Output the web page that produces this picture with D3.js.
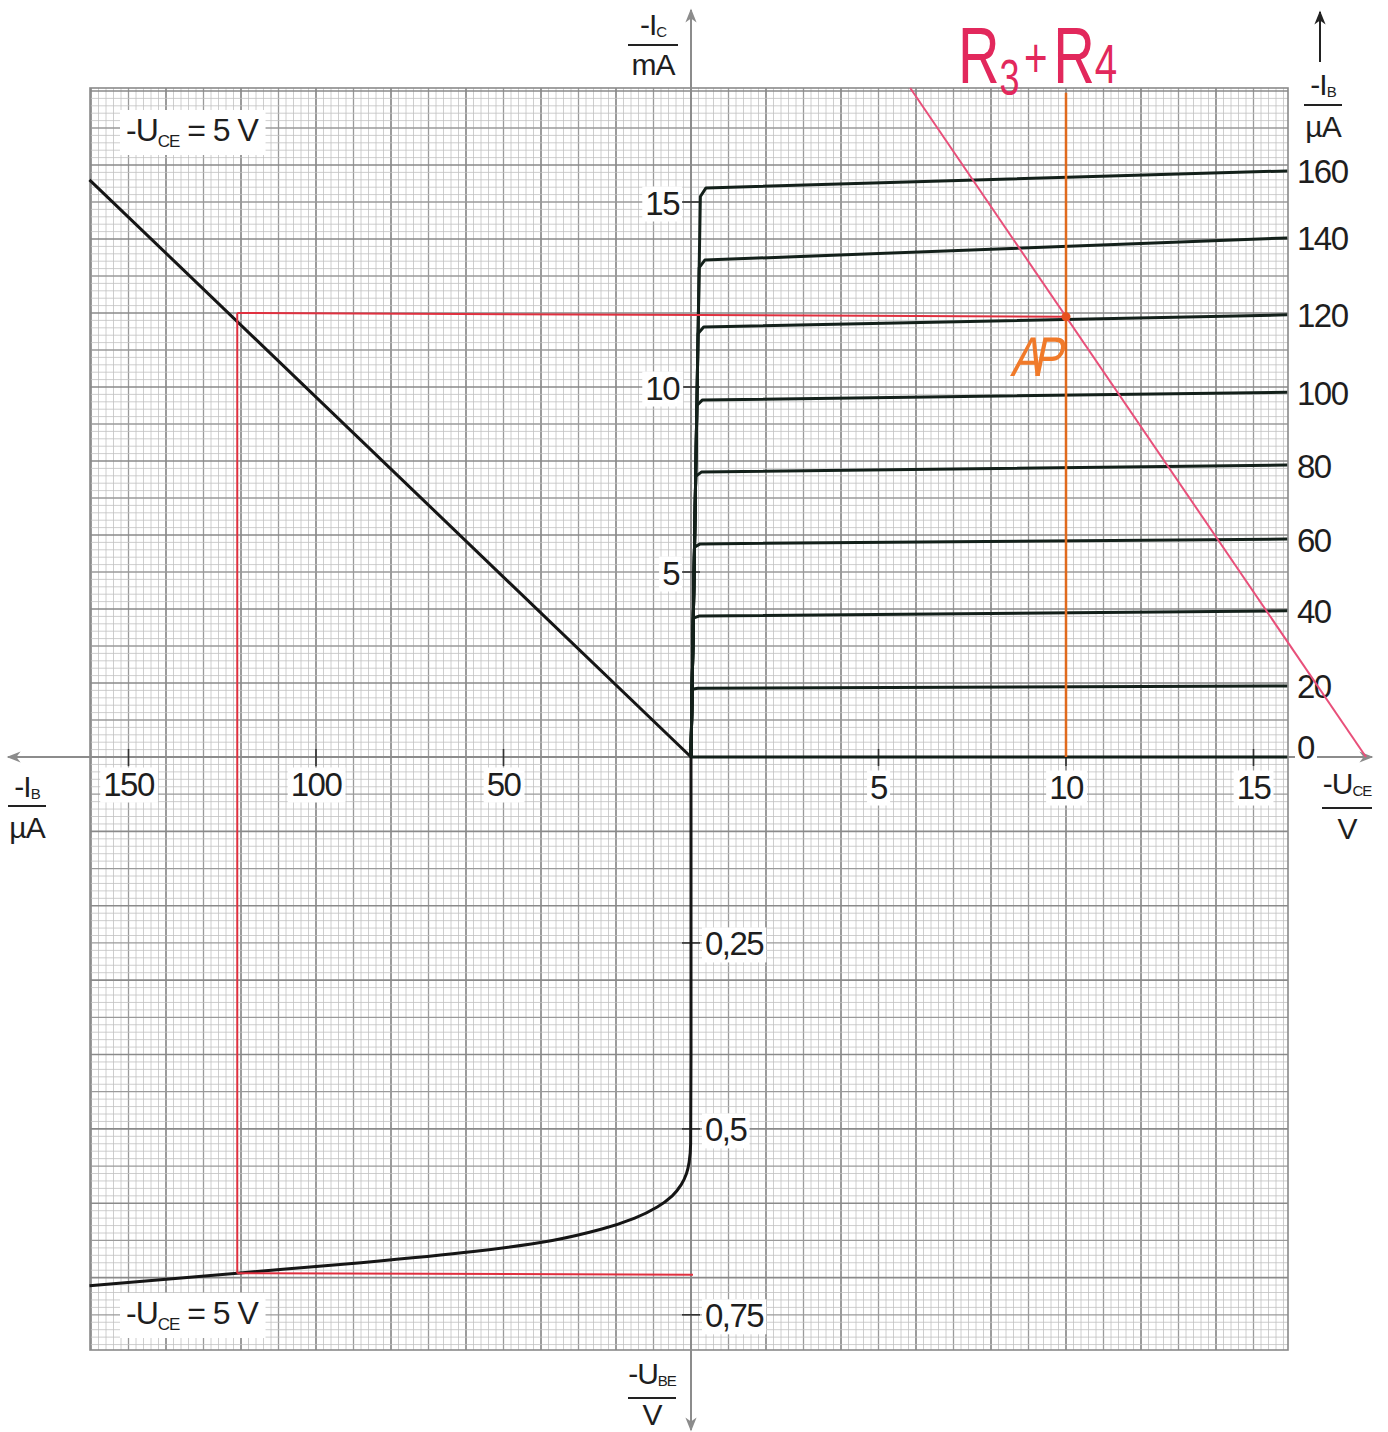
<!DOCTYPE html>
<html>
<head>
<meta charset="utf-8">
<script src="https://cdn.jsdelivr.net/npm/d3@7"></script>
<style>
  html, body { margin: 0; padding: 0; background: #fff; }
  svg text { font-family: "Liberation Sans", Arial, sans-serif; fill: #1e1e1e; }
</style>
</head>
<body>
<svg id="chart" width="1388" height="1432"></svg>
<script>
// ---- Data -------------------------------------------------------------
// Output characteristics: -IC (mA) vs -UCE (V), one curve per base current
const baseCurrents = [0, 20, 40, 60, 80, 100, 120, 140, 160];       // µA
const icAtKnee     = [0, 1.86, 3.81, 5.76, 7.70, 9.65, 11.62, 13.43, 15.38]; // mA just past the knee
const icAtEnd      = [0, 1.92, 3.95, 5.89, 7.89, 9.86, 11.95, 14.03, 15.84]; // mA at UCE = 15.9 V
const uceKnee = 0.25;
const uceEnd  = 15.9;

// Current transfer characteristic (-UCE = 5 V): -IC vs -IB
const transferIB = [0, 160.4];
const transferIC = [0, 15.6];

// Input characteristic (-UCE = 5 V): -IB vs -UBE
const inputUBE = [0, 0.40, 0.520, 0.545, 0.560, 0.575, 0.590, 0.605, 0.620, 0.635, 0.650, 0.665, 0.680, 0.694, 0.711];
const inputIB  = [0, 0,    0.1,   0.5,   1.2,   2.6,   5.0,   9.0,   15.0,  24.0,  37.0,  58.0,  88.0,  121,   160.4];

// Operating point and load line
const apUCE = 10, apIC = 11.9, apIB = 121, apUBE = 0.694;
const supplyU = 18;                      // load line meets the UCE axis here
const loadTopIC = 18.08;

// Axis tick labels
const uceTicks = [5, 10, 15];
const ibTicks  = [50, 100, 150];
const icTicks  = [5, 10, 15];
const ubeTicks = [0.25, 0.5, 0.75];
const ubeTickText = ["0,25", "0,5", "0,75"];

// ---- Scales -------------------------------------------------------------
const ox = 691, oy = 757;
const gLeft = 90, gRight = 1288, gTop = 88, gBottom = 1350;

const xU = d3.scaleLinear().domain([0, 16]).range([ox, ox + 600]);      // -UCE right
const xB = d3.scaleLinear().domain([0, 160]).range([ox, ox - 600]);     // -IB left
const yI = d3.scaleLinear().domain([0, 18]).range([oy, oy - 666]);      // -IC up
const yU = d3.scaleLinear().domain([0, 0.8]).range([oy, oy + 595]);     // -UBE down

const svg = d3.select("#chart");

// ---- Graph paper ------------------------------------------------------
const paper = svg.append("g");
paper.append("rect").attr("x", gLeft).attr("y", gTop)
  .attr("width", gRight - gLeft).attr("height", gBottom - gTop).attr("fill", "#fff");

const lineStyle = i => (i % 10 === 0) ? ["#8a8a8a", 1.7] : (i % 5 === 0) ? ["#9a9a9a", 1.3] : ["#c2c2c2", 0.8];
const vLines = [], hLines = [];
for (let i = 0; ; i++) { const x = xU(i * 0.2); if (x > gRight - 1) break; vLines.push([x, i]); }
for (let i = 1; ; i++) { const x = xB(i * 2); if (x < gLeft - 0.5) break; vLines.push([x, i]); }
for (let i = 0; ; i++) { const y = yI(i * 0.2); if (y < gTop - 0.5) break; hLines.push([y, i]); }
for (let i = 1; ; i++) { const y = yU(i * 0.01); if (y > gBottom - 1) break; hLines.push([y, i]); }
const sortW = (a, b) => lineStyle(a[1])[1] - lineStyle(b[1])[1];
vLines.sort(sortW); hLines.sort(sortW);
paper.selectAll("line.v").data(vLines).join("line")
  .attr("x1", d => d[0]).attr("x2", d => d[0]).attr("y1", gTop).attr("y2", gBottom)
  .attr("stroke", d => lineStyle(d[1])[0]).attr("stroke-width", d => lineStyle(d[1])[1]);
paper.selectAll("line.h").data(hLines).join("line")
  .attr("y1", d => d[0]).attr("y2", d => d[0]).attr("x1", gLeft).attr("x2", gRight)
  .attr("stroke", d => lineStyle(d[1])[0]).attr("stroke-width", d => lineStyle(d[1])[1]);
paper.append("rect").attr("x", gLeft).attr("y", gTop)
  .attr("width", gRight - gLeft).attr("height", gBottom - gTop)
  .attr("fill", "none").attr("stroke", "#8a8a8a").attr("stroke-width", 1.6);

// ---- Axes ---------------------------------------------------------------
const axisColor = "#8c8c8c";
const defs = svg.append("defs");
defs.append("marker").attr("id", "arrGray").attr("viewBox", "0 0 10 10")
  .attr("refX", 9).attr("refY", 5).attr("markerWidth", 20).attr("markerHeight", 14)
  .attr("markerUnits", "userSpaceOnUse").attr("orient", "auto")
  .append("path").attr("d", "M0,1 L10,5 L0,9 L3,5 Z").attr("fill", axisColor);
defs.append("marker").attr("id", "arrBlack").attr("viewBox", "0 0 10 10")
  .attr("refX", 9).attr("refY", 5).attr("markerWidth", 20).attr("markerHeight", 14)
  .attr("markerUnits", "userSpaceOnUse").attr("orient", "auto")
  .append("path").attr("d", "M0,1 L10,5 L0,9 L3,5 Z").attr("fill", "#222");

const axes = svg.append("g");
axes.append("line").attr("x1", ox).attr("x2", ox).attr("y1", 1430).attr("y2", 10)
  .attr("stroke", axisColor).attr("stroke-width", 2).attr("marker-end", "url(#arrGray)");
axes.append("line").attr("x1", ox).attr("x2", ox).attr("y1", 10).attr("y2", 1430)
  .attr("stroke", axisColor).attr("stroke-width", 2).attr("marker-end", "url(#arrGray)");
axes.append("line").attr("x1", ox).attr("x2", 1372).attr("y1", oy).attr("y2", oy)
  .attr("stroke", axisColor).attr("stroke-width", 2).attr("marker-end", "url(#arrGray)");
axes.append("line").attr("x1", ox).attr("x2", 8).attr("y1", oy).attr("y2", oy)
  .attr("stroke", axisColor).attr("stroke-width", 2).attr("marker-end", "url(#arrGray)");

// tick marks
const tickColor = "#333";
axes.selectAll("line.tu").data(uceTicks).join("line")
  .attr("x1", d => xU(d)).attr("x2", d => xU(d)).attr("y1", oy - 8).attr("y2", oy + 9)
  .attr("stroke", tickColor).attr("stroke-width", 1.6);
axes.selectAll("line.tb").data(ibTicks).join("line")
  .attr("x1", d => xB(d)).attr("x2", d => xB(d)).attr("y1", oy - 8).attr("y2", oy + 9)
  .attr("stroke", tickColor).attr("stroke-width", 1.6);
axes.selectAll("line.ti").data(icTicks).join("line")
  .attr("y1", d => yI(d)).attr("y2", d => yI(d)).attr("x1", ox - 9).attr("x2", ox + 9)
  .attr("stroke", tickColor).attr("stroke-width", 1.6);
axes.selectAll("line.tv").data(ubeTicks).join("line")
  .attr("y1", d => yU(d)).attr("y2", d => yU(d)).attr("x1", ox - 9).attr("x2", ox + 9)
  .attr("stroke", tickColor).attr("stroke-width", 1.6);

// label with a white patch cut out of the grid
function boxedText(parent, x, y, txt, anchor, size, pad) {
  const g = parent.append("g");
  const r = g.append("rect").attr("fill", "#fff");
  const t = g.append("text").attr("x", x).attr("y", y).attr("text-anchor", anchor)
    .attr("dominant-baseline", "central").attr("font-size", size)
    .attr("letter-spacing", -1.5).text(txt);
  const b = t.node().getBBox();
  r.attr("x", b.x - pad).attr("y", b.y + 2).attr("width", b.width + 2 * pad).attr("height", b.height - 2);
  return g;
}
const lbl = svg.append("g");
uceTicks.forEach(d => boxedText(lbl, xU(d), oy + 30, String(d), "middle", 33, 3));
ibTicks.forEach(d => boxedText(lbl, xB(d), oy + 27, String(d), "middle", 33, 3));
icTicks.forEach(d => boxedText(lbl, ox - 12, yI(d) + 1, String(d), "end", 33, 3));
ubeTicks.forEach((d, i) => boxedText(lbl, ox + 14, yU(d) + 1, ubeTickText[i], "start", 33, 3));

// ---- Curves -------------------------------------------------------------
const curves = svg.append("g");

// transfer characteristic
const transferLine = d3.line().x(d => xB(d[0])).y(d => yI(d[1]));
curves.append("path").attr("d", transferLine(transferIB.map((v, i) => [v, transferIC[i]])))
  .attr("fill", "none").attr("stroke", "#151515").attr("stroke-width", 3);

// input characteristic
const inputLine = d3.line().x(d => xB(d[0])).y(d => yU(d[1])).curve(d3.curveMonotoneY);
curves.append("path").attr("d", inputLine(inputIB.map((v, i) => [v, inputUBE[i]])))
  .attr("fill", "none").attr("stroke", "#151515").attr("stroke-width", 3);

// output characteristics
const outLine = d3.line().x(d => xU(d[0])).y(d => yI(d[1]));
baseCurrents.forEach((ib, i) => {
  const k = icAtKnee[i], e = icAtEnd[i];
  const pts = [[0, 0], [uceKnee * k / 15.4, k * 0.985], [uceKnee * k / 15.4 + 0.15, k], [uceEnd, e]];
  curves.append("path").attr("d", outLine(pts))
    .attr("fill", "none").attr("stroke", "#13201a").attr("stroke-width", 3)
    .attr("stroke-linejoin", "round");
});

// base current labels at the curve ends
baseCurrents.forEach((ib, i) => {
  const y = ib === 0 ? oy - 11 : yI(icAtEnd[i]);
  boxedText(lbl, 1297, y + 1, String(ib), "start", 33, 2);
});

// ---- Operating point construction --------------------------------------
const red = "#e0303f";
const cons = svg.append("g");
cons.append("line").attr("x1", xB(apIB)).attr("x2", xU(apUCE))
  .attr("y1", yI(apIC + 0.1)).attr("y2", yI(apIC))
  .attr("stroke", red).attr("stroke-width", 2);
cons.append("line").attr("x1", xB(apIB)).attr("x2", xB(apIB))
  .attr("y1", yI(apIC + 0.1)).attr("y2", yU(apUBE))
  .attr("stroke", red).attr("stroke-width", 2);
cons.append("line").attr("x1", xB(apIB)).attr("x2", ox + 2)
  .attr("y1", yU(apUBE)).attr("y2", yU(apUBE + 0.002))
  .attr("stroke", red).attr("stroke-width", 2);

// UCE = 10 V marker line
cons.append("line").attr("x1", xU(apUCE)).attr("x2", xU(apUCE))
  .attr("y1", yI(17.95)).attr("y2", oy)
  .attr("stroke", "#e06a1c").attr("stroke-width", 2.5);

// load line R3 + R4
const loadSlope = apIC / (supplyU - apUCE);
const loadPts = [[supplyU - loadTopIC / loadSlope, loadTopIC], [supplyU, 0]];
cons.append("path").attr("d", outLine(loadPts))
  .attr("fill", "none").attr("stroke", "#e8507a").attr("stroke-width", 2);

cons.append("circle").attr("cx", xU(apUCE)).attr("cy", yI(apIC)).attr("r", 4.5).attr("fill", "#e8501e");

// pen annotations
svg.append("text").attr("transform", "translate(1010,376) skewX(-12) scale(0.8,1)")
  .attr("font-family", "'DejaVu Sans', sans-serif").attr("font-weight", 200)
  .attr("font-size", 56).style("fill", "#f07a2a")
  .attr("letter-spacing", -10).text("AP");

const rt = svg.append("text").attr("transform", "translate(958,83) scale(0.72,1)")
  .attr("font-family", "'DejaVu Sans', sans-serif").attr("font-weight", 200)
  .attr("font-size", 80).style("fill", "#e2285c");
rt.append("tspan").text("R");
rt.append("tspan").attr("dy", 12).attr("font-size", 50).text("3");
rt.append("tspan").attr("dy", -18).attr("font-size", 56).attr("dx", 6).text("+");
rt.append("tspan").attr("dy", 6).attr("dx", 8).text("R");
rt.append("tspan").attr("dy", 0).attr("font-size", 56).text("4");

// ---- Axis titles (fractions) -------------------------------------------
function fraction(cx, yNum, yLine, yDen, main, sub, den, half) {
  const g = svg.append("g");
  const t = g.append("text").attr("x", cx).attr("y", yNum).attr("text-anchor", "middle")
    .attr("font-size", 30).attr("letter-spacing", -1);
  t.append("tspan").text(main);
  t.append("tspan").attr("font-size", 15).attr("dy", 2).text(sub);
  g.append("line").attr("x1", cx - half).attr("x2", cx + half).attr("y1", yLine).attr("y2", yLine)
    .attr("stroke", "#222").attr("stroke-width", 2.2);
  g.append("text").attr("x", cx).attr("y", yDen).attr("text-anchor", "middle")
    .attr("font-size", 30).attr("letter-spacing", -1).text(den);
}
fraction(653, 35, 45, 75, "-I", "C", "mA", 25);
fraction(1323, 95, 105, 137, "-I", "B", "µA", 19);
fraction(27, 797, 806, 838, "-I", "B", "µA", 19);
fraction(1347, 794, 808, 839, "-U", "CE", "V", 25);
fraction(652, 1384, 1398, 1425, "-U", "BE", "V", 24);

// arrow above the base current scale
svg.append("line").attr("x1", 1320).attr("x2", 1320).attr("y1", 62).attr("y2", 12)
  .attr("stroke", "#222").attr("stroke-width", 2).attr("marker-end", "url(#arrBlack)");

// ---- Condition labels --------------------------------------------------
function condition(x, y) {
  const g = svg.append("g");
  const r = g.append("rect").attr("fill", "#fff");
  const t = g.append("text").attr("x", x).attr("y", y).attr("font-size", 32).attr("letter-spacing", -1);
  t.append("tspan").text("-U");
  t.append("tspan").attr("font-size", 17).attr("dy", 6).text("CE");
  t.append("tspan").attr("dy", -6).text(" = 5 V");
  const b = t.node().getBBox();
  r.attr("x", b.x - 6).attr("y", b.y - 2).attr("width", b.width + 12).attr("height", b.height + 6);
}
condition(126, 141);
condition(126, 1324);
</script>
</body>
</html>
